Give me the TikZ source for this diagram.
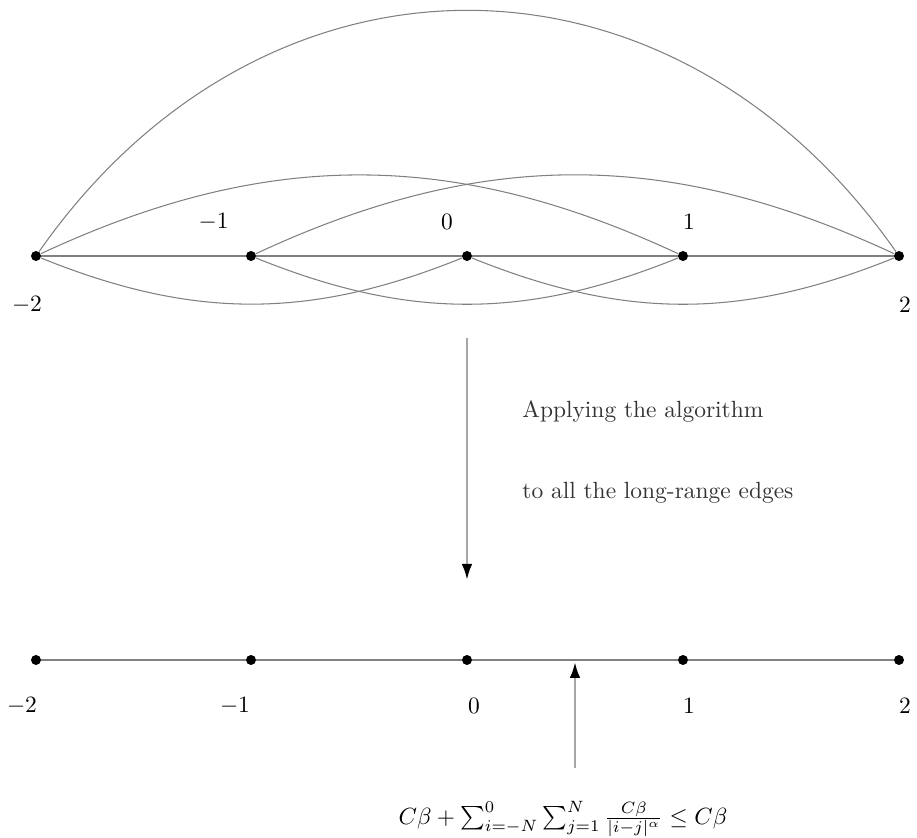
\documentclass[tikz,border=0pt]{standalone}
\usepackage{amsmath,amssymb}
\usetikzlibrary{arrows.meta,positioning,calc}

\tikzset{
  site/.style={circle,fill=black,inner sep=0pt,minimum size=0.15cm},
  edge/.style={gray,line width=0.45pt},
  flow/.style={black!35,line width=1.1pt,-{Latex[black,length=2.4mm,width=1.6mm]}},
  lbl/.style={inner sep=0pt},
  note/.style={anchor=west,text=black!80,inner sep=0pt}
}

\begin{document}
\begin{tikzpicture}
    \useasboundingbox (-7.005,-8.73) rectangle (6.75,3.84);

    % Chain before
    \node[site] (tm2) at (-6.465,0) {};
    \node[site] (tm1) at (-3.24,0) {};
    \node[site] (t0) at (0,0) {};
    \node[site] (t1) at (3.24,0) {};
    \node[site] (t2) at (6.48,0) {};
    \node[lbl] (ltm2) at (-6.6,-0.735) {$-2$};
    \node[lbl] (ltm1) at (-3.8,0.51) {$-1$};
    \node[lbl] (lt0) at (-0.3,0.51) {$0$};
    \node[lbl] (lt1) at (3.33,0.51) {$1$};
    \node[lbl] (lt2) at (6.57,-0.735) {$2$};

    % Short-range edges
    \draw[edge] (tm2) -- (tm1) -- (t0) -- (t1) -- (t2);
    % Long-range edges
    \draw[edge] (tm2) to[bend left=25] (t1);
    \draw[edge] (tm1) to[bend left=25] (t2);
    \draw[edge] (tm2) to[out=55,in=125,looseness=1.175] (t2);
    \draw[edge] (tm2) to[bend right=22] (t0);
    \draw[edge] (tm1) to[bend right=22] (t1);
    \draw[edge] (t0) to[bend right=22] (t2);

    % Step arrow
    \coordinate (top) at (0,-1.23);
    \coordinate (bot) at (0,-4.86);
    \draw[flow] (top) -- (bot);
    \node[note] (step1) at (0.825,-2.34) {Applying the algorithm};
    \node[note] (step2) at (0.825,-3.555) {to all the long-range edges};

    % Chain after
    \node[site] (bm2) at (-6.465,-6.06) {};
    \node[site] (bm1) at (-3.24,-6.06) {};
    \node[site] (b0) at (0,-6.06) {};
    \node[site] (b1) at (3.24,-6.06) {};
    \node[site] (b2) at (6.48,-6.06) {};
    \draw[edge] (bm2) -- (bm1) -- (b0) -- (b1) -- (b2);
    \node[lbl] (lbm2) at (-6.675,-6.75) {$-2$};
    \node[lbl] (lbm1) at (-3.48,-6.75) {$-1$};
    \node[lbl] (lb0) at (0.105,-6.75) {$0$};
    \node[lbl] (lb1) at (3.33,-6.75) {$1$};
    \node[lbl] (lb2) at (6.57,-6.75) {$2$};

    % Bound on the new edge
    \coordinate (foot) at (1.62,-7.68);
    \coordinate (hit) at (1.62,-6.09);
    \draw[flow] (foot) -- (hit);
    \node[lbl] (bound) at (1.44,-8.445)
        {$C\beta+\sum_{i=-N}^{0}\sum_{j=1}^{N}\frac{C\beta}{|i-j|^\alpha}\leq C\beta$};
\end{tikzpicture}
\end{document}
